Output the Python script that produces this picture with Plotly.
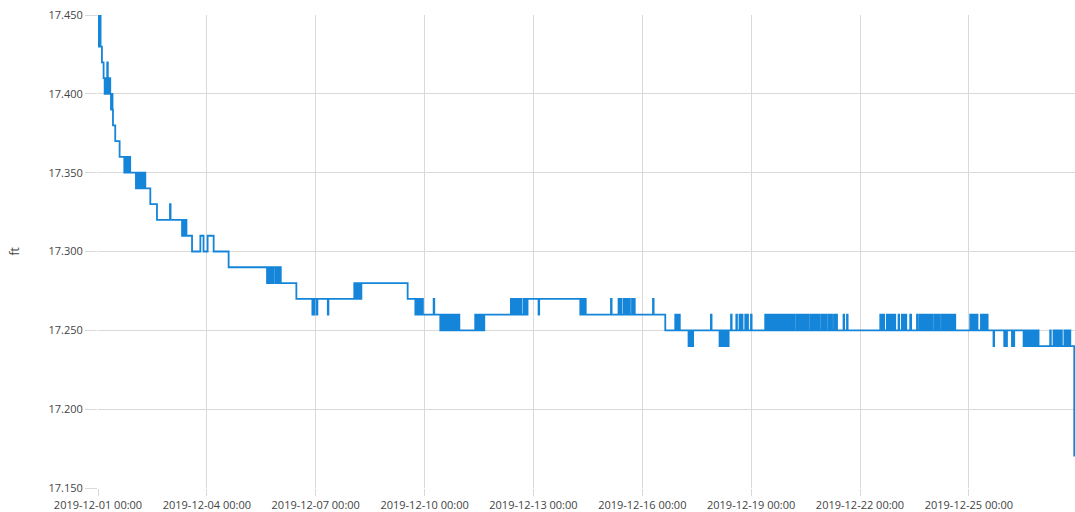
import pandas as pd
import plotly.graph_objects as go

START = "2019-12-01 00:00"

# Readings as (hours since START, level in ft); each value holds until the next reading.
readings_week1 = [
    (0.0, 17.45), (0.5, 17.43), (0.9, 17.44), (1.3, 17.45), (1.7, 17.43), (2.6, 17.42),
    (3.7, 17.41), (4.4, 17.40), (4.8, 17.41), (5.5, 17.40), (6.1, 17.42), (6.5, 17.41),
    (7.0, 17.40), (7.6, 17.41), (8.1, 17.40), (8.6, 17.39), (9.2, 17.40), (9.6, 17.39),
    (9.9, 17.38), (11.4, 17.37), (14.3, 17.36), (17.4, 17.35), (17.8, 17.36), (18.3, 17.35),
    (18.8, 17.36), (19.3, 17.35), (19.8, 17.36), (20.3, 17.35), (20.8, 17.36), (21.3, 17.35),
    (25.1, 17.34), (25.5, 17.35), (26.2, 17.34), (26.6, 17.35), (26.9, 17.34), (27.3, 17.35),
    (28.0, 17.34), (28.4, 17.35), (29.1, 17.34), (29.6, 17.35), (30.2, 17.34), (30.6, 17.35),
    (31.3, 17.34), (34.6, 17.33), (39.0, 17.32), (47.6, 17.33), (48.0, 17.32),
    (55.6, 17.31), (56.0, 17.32), (56.5, 17.31), (57.0, 17.32), (57.5, 17.31), (58.0, 17.32),
    (58.5, 17.31), (62.2, 17.30), (67.7, 17.31), (69.8, 17.30), (72.5, 17.31), (76.5, 17.30),
    (86.4, 17.29), (111.8, 17.28), (112.4, 17.29), (113.0, 17.28), (113.6, 17.29),
    (114.2, 17.28), (114.8, 17.29), (115.4, 17.28), (116.0, 17.29), (117.3, 17.28),
    (117.9, 17.29), (118.5, 17.28), (119.1, 17.29), (119.7, 17.28), (120.3, 17.29),
    (120.9, 17.28), (131.2, 17.27),
]

readings_week2 = [
    (141.8, 17.26), (142.3, 17.27), (142.7, 17.26), (143.1, 17.27), (144.6, 17.26),
    (145.1, 17.27), (152.0, 17.26), (152.4, 17.27),
    (169.5, 17.28), (170.1, 17.27), (170.7, 17.28), (171.3, 17.27), (171.9, 17.28),
    (172.5, 17.27), (173.1, 17.28), (173.7, 17.27), (174.2, 17.28),
    (204.8, 17.27), (209.9, 17.26), (210.5, 17.27), (211.1, 17.26), (211.7, 17.27),
    (212.3, 17.26), (212.9, 17.27), (213.5, 17.26), (214.1, 17.27), (214.9, 17.26),
    (222.0, 17.27), (222.4, 17.26),
    (226.4, 17.25), (227.0, 17.26), (227.6, 17.25), (228.2, 17.26), (228.8, 17.25),
    (229.4, 17.26), (230.0, 17.25), (230.8, 17.26), (231.9, 17.25), (232.5, 17.26),
    (233.1, 17.25), (233.7, 17.26), (234.1, 17.25), (234.6, 17.26), (235.6, 17.25),
    (236.2, 17.26), (236.8, 17.25), (237.4, 17.26), (238.0, 17.25), (238.5, 17.26),
    (239.0, 17.25),
    (249.5, 17.26), (250.1, 17.25), (250.7, 17.26), (251.3, 17.25), (251.9, 17.26),
    (252.5, 17.25), (253.1, 17.26), (253.7, 17.25), (254.3, 17.26), (254.9, 17.25),
    (255.5, 17.26),
]

readings_week3 = [
    (273.1, 17.27), (273.7, 17.26), (274.3, 17.27), (274.9, 17.26), (275.5, 17.27),
    (276.1, 17.26), (276.7, 17.27), (277.1, 17.26), (278.2, 17.27), (278.8, 17.26),
    (279.4, 17.27), (280.0, 17.26), (281.5, 17.27), (282.1, 17.26), (282.7, 17.27),
    (283.3, 17.26), (284.1, 17.27),
    (291.4, 17.26), (291.8, 17.27),
    (319.0, 17.26), (319.6, 17.27), (320.2, 17.26), (320.8, 17.27), (321.4, 17.26),
    (322.0, 17.27), (322.6, 17.26),
    (339.3, 17.27), (339.7, 17.26),
    (344.3, 17.27), (344.9, 17.26), (345.5, 17.27), (346.1, 17.26), (347.6, 17.27),
    (348.2, 17.26), (348.8, 17.27), (349.4, 17.26), (350.0, 17.27), (350.6, 17.26),
    (351.2, 17.27), (351.8, 17.26), (353.2, 17.27), (353.8, 17.26), (354.4, 17.27),
    (355.0, 17.26),
    (367.1, 17.27), (367.5, 17.26), (375.2, 17.25),
    (381.8, 17.26), (382.4, 17.25), (383.0, 17.26), (383.6, 17.25), (384.2, 17.26),
    (384.8, 17.25),
    (390.6, 17.24), (391.2, 17.25), (391.8, 17.24), (392.4, 17.25), (393.0, 17.24),
    (393.6, 17.25),
    (405.4, 17.26), (405.8, 17.25),
    (411.1, 17.24), (411.7, 17.25), (412.3, 17.24), (412.9, 17.25), (413.5, 17.24),
    (414.1, 17.25), (414.7, 17.24), (415.3, 17.25), (415.9, 17.24), (416.5, 17.25),
    (416.9, 17.24), (417.1, 17.25),
    (418.7, 17.26), (419.1, 17.25), (422.2, 17.26), (422.6, 17.25),
    (424.3, 17.26), (424.7, 17.25), (425.9, 17.26), (426.3, 17.25), (428.1, 17.26),
    (428.7, 17.25), (429.3, 17.26), (429.9, 17.25), (431.9, 17.26), (432.3, 17.25),
    (441.3, 17.26), (442.0, 17.25), (442.7, 17.26), (443.4, 17.25), (444.6, 17.26),
    (445.3, 17.25), (446.0, 17.26), (446.7, 17.25), (447.4, 17.26), (448.1, 17.25),
    (448.8, 17.26), (449.5, 17.25), (450.2, 17.26), (450.9, 17.25), (451.6, 17.26),
    (452.3, 17.25), (453.0, 17.26), (453.7, 17.25), (454.4, 17.26), (455.1, 17.25),
    (455.8, 17.26), (456.5, 17.25), (457.2, 17.26), (457.9, 17.25), (458.6, 17.26),
    (459.3, 17.25), (460.0, 17.26), (460.7, 17.25), (462.0, 17.26), (462.7, 17.25),
    (463.4, 17.26), (464.1, 17.25), (464.8, 17.26), (465.5, 17.25), (466.2, 17.26),
    (466.9, 17.25), (467.6, 17.26), (468.3, 17.25), (469.0, 17.26), (469.7, 17.25),
    (471.0, 17.26), (471.7, 17.25), (472.4, 17.26), (473.1, 17.25), (473.8, 17.26),
    (474.5, 17.25), (475.2, 17.26), (475.9, 17.25), (476.6, 17.26), (477.3, 17.25),
    (478.6, 17.26), (479.3, 17.25), (480.0, 17.26), (480.7, 17.25), (481.4, 17.26),
    (482.1, 17.25), (483.4, 17.26), (484.1, 17.25), (484.8, 17.26), (485.5, 17.25),
    (486.8, 17.26), (487.5, 17.25), (488.2, 17.26), (488.8, 17.25),
    (493.1, 17.26), (493.5, 17.25), (495.4, 17.26), (495.8, 17.25),
]

readings_week4 = [
    (517.4, 17.26), (517.9, 17.25), (518.5, 17.26), (519.1, 17.25), (519.6, 17.26),
    (520.0, 17.25), (521.8, 17.26), (522.4, 17.25), (523.0, 17.26), (523.6, 17.25),
    (524.2, 17.26), (524.8, 17.25), (525.4, 17.26), (526.0, 17.25), (526.6, 17.26),
    (527.3, 17.25), (529.5, 17.26), (529.9, 17.25), (531.7, 17.26), (532.1, 17.25),
    (532.8, 17.26), (533.4, 17.25), (534.0, 17.26), (534.6, 17.25), (537.2, 17.26),
    (537.8, 17.25), (541.7, 17.26), (542.1, 17.25), (543.4, 17.26), (544.0, 17.25),
    (544.6, 17.26), (545.2, 17.25), (545.8, 17.26), (546.2, 17.25),
    (547.2, 17.26), (547.9, 17.25), (548.6, 17.26), (549.3, 17.25), (550.0, 17.26),
    (550.7, 17.25), (551.4, 17.26), (552.1, 17.25), (553.4, 17.26), (554.1, 17.25),
    (554.8, 17.26), (555.5, 17.25), (556.2, 17.26), (556.9, 17.25), (558.2, 17.26),
    (558.9, 17.25), (559.6, 17.26), (560.3, 17.25), (561.0, 17.26), (561.7, 17.25),
    (562.4, 17.26), (563.1, 17.25), (563.8, 17.26), (564.5, 17.25), (565.2, 17.26),
    (565.9, 17.25), (566.6, 17.26), (567.0, 17.25),
    (576.9, 17.26), (577.6, 17.25), (578.3, 17.26), (579.0, 17.25), (579.7, 17.26),
    (580.4, 17.25), (581.1, 17.26), (581.7, 17.25),
    (584.0, 17.26), (584.7, 17.25), (585.4, 17.26), (586.1, 17.25), (586.8, 17.26),
    (587.5, 17.25), (588.0, 17.26), (588.4, 17.25),
    (592.3, 17.24), (592.7, 17.25), (599.4, 17.24), (600.0, 17.25), (600.6, 17.24),
    (601.2, 17.25), (604.5, 17.24), (605.1, 17.25), (605.6, 17.24), (606.0, 17.25),
    (612.2, 17.24), (612.9, 17.25), (613.6, 17.24), (614.3, 17.25), (615.0, 17.24),
    (615.7, 17.25), (616.4, 17.24), (617.1, 17.25), (617.8, 17.24), (618.5, 17.25),
    (619.2, 17.24), (619.9, 17.25), (620.6, 17.24), (621.3, 17.25), (622.1, 17.24),
    (629.8, 17.25), (630.2, 17.24), (632.0, 17.25), (632.4, 17.24), (633.4, 17.25),
    (634.0, 17.24), (634.6, 17.25), (635.2, 17.24), (635.8, 17.25), (636.4, 17.24),
    (636.9, 17.25), (637.5, 17.24), (639.2, 17.25), (639.8, 17.24), (640.4, 17.25),
    (641.0, 17.24), (641.6, 17.25), (642.2, 17.24), (642.8, 17.25), (643.1, 17.24),
    (645.7, 17.17),
]

y_range = [17.15, 17.45]
x_end_hours = 646.2
y_title = "ft"

readings = readings_week1 + readings_week2 + readings_week3 + readings_week4
hours = [h for h, _ in readings]
levels = [v for _, v in readings]
times = pd.Timestamp(START) + pd.to_timedelta(hours, unit="h")

fig = go.Figure()
fig.add_trace(go.Scatter(
    x=times, y=levels, mode="lines",
    line=dict(color="#1485d8", width=1.8, shape="hv"),
    hoverinfo="x+y", showlegend=False,
))

grid = "#d9d9d9"
font_txt = dict(family="Open Sans, sans-serif", size=11, color="#444444")
fig.update_layout(
    width=1075, height=512,
    margin=dict(l=98, r=0, t=15, b=24, pad=0),
    paper_bgcolor="white", plot_bgcolor="white",
    font=font_txt,
    xaxis=dict(
        range=[pd.Timestamp(START), pd.Timestamp(START) + pd.Timedelta(hours=x_end_hours)],
        tick0=START, dtick=3 * 86400000, tickformat="%Y-%m-%d %H:%M",
        showgrid=True, gridcolor=grid, gridwidth=1,
        ticks="outside", ticklen=7, tickcolor=grid,
        showline=False, zeroline=False, tickfont=font_txt, automargin=False,
    ),
    yaxis=dict(
        range=y_range, dtick=0.05, tickformat=".3f",
        showgrid=True, gridcolor=grid, gridwidth=1,
        ticks="outside", ticklen=12, tickcolor=grid,
        showline=False, zeroline=False, tickfont=font_txt, automargin=False,
    ),
    annotations=[dict(
        text=y_title, textangle=-90, xref="paper", yref="paper",
        x=-0.085, y=0.5, xanchor="center", yanchor="middle", showarrow=False,
        font=dict(family="Open Sans, sans-serif", size=12, color="#444444"),
    )],
)

fig.write_html(
    "out.html",
    config={"displayModeBar": False},
    post_script="document.body.style.margin='0';document.body.style.overflow='hidden';",
)
